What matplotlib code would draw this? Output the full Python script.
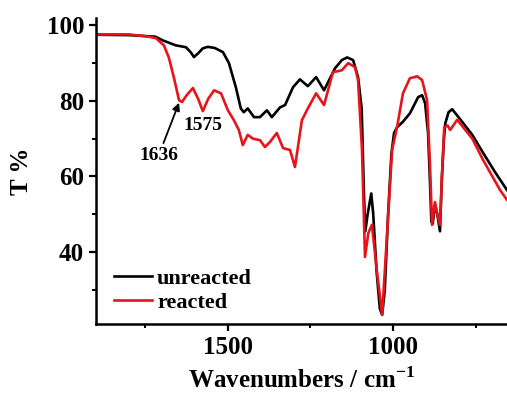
import matplotlib
matplotlib.use('Agg')
import matplotlib.pyplot as plt
from matplotlib.ticker import MultipleLocator

# unreacted sample (black)
wn_unreacted = [1900, 1800, 1720, 1697, 1658, 1627, 1612, 1603, 1590, 1576, 1561, 1540,
                1515, 1497, 1476, 1461, 1452, 1440, 1421, 1403, 1382, 1367, 1342, 1327,
                1303, 1282, 1258, 1233, 1209, 1176, 1155, 1139, 1121, 1106, 1095, 1088,
                1084, 1077, 1066, 1060, 1050, 1040, 1033, 1025, 1015, 1005, 997, 988,
                970, 949, 924, 912, 903, 894, 888, 884, 880, 873, 866, 858, 852, 846,
                842, 832, 821, 800, 760, 727, 690, 655]
t_unreacted = [97.5, 97.4, 97.0, 96.0, 94.7, 94.2, 92.8, 91.6, 92.6, 93.9, 94.3, 94.0,
               92.9, 90.0, 83.6, 78.0, 77.0, 78.0, 75.7, 75.7, 77.5, 75.7, 78.3, 78.9,
               83.6, 85.7, 83.9, 86.3, 82.8, 88.6, 90.8, 91.5, 90.8, 86.3, 78.0, 55.0,
               45.5, 50.0, 55.5, 50.0, 35.0, 25.0, 23.4, 30.0, 50.0, 66.0, 71.5, 73.0,
               74.5, 76.7, 81.0, 81.5, 79.4, 71.5, 58.0, 48.0, 47.5, 52.5, 50.0, 45.5,
               60.0, 70.0, 74.0, 77.0, 77.8, 75.5, 71.0, 66.2, 61.0, 56.4]

# reacted sample (red)
wn_reacted = [1900, 1800, 1740, 1718, 1694, 1679, 1664, 1648, 1639, 1625, 1606, 1590,
              1576, 1560, 1542, 1521, 1500, 1482, 1467, 1455, 1440, 1424, 1403, 1388,
              1373, 1352, 1333, 1312, 1297, 1276, 1258, 1233, 1209, 1182, 1155, 1136,
              1115, 1106, 1094, 1085, 1075, 1064, 1049, 1033, 1018, 1003, 988, 970,
              949, 927, 912, 897, 888, 882, 873, 866, 858, 852, 845, 835, 827, 806,
              760, 727, 676, 655]
t_reacted = [97.6, 97.6, 97.0, 96.6, 94.7, 91.5, 86.3, 80.2, 79.7, 81.5, 83.4, 80.5,
             77.3, 80.5, 82.8, 82.0, 77.5, 74.9, 72.3, 68.3, 71.0, 70.0, 69.6, 67.8,
             69.1, 71.5, 67.5, 67.0, 62.5, 74.9, 78.0, 82.0, 78.9, 87.6, 88.1, 90.0,
             88.9, 85.5, 67.0, 38.7, 45.0, 47.2, 35.0, 23.4, 45.0, 67.0, 73.0, 82.0,
             86.0, 86.5, 85.5, 80.2, 62.5, 47.2, 53.2, 50.0, 47.2, 60.0, 73.0, 73.5,
             72.3, 75.0, 70.0, 64.3, 56.4, 53.8]

plt.rcParams['font.family'] = ['Liberation Serif', 'DejaVu Serif']
plt.rcParams['font.weight'] = 'bold'
plt.rcParams['mathtext.fontset'] = 'custom'
plt.rcParams['mathtext.rm'] = 'Liberation Serif:bold'
plt.rcParams['mathtext.bf'] = 'Liberation Serif:bold'

fig = plt.figure(figsize=(5.07, 3.94), dpi=100)
ax = fig.add_axes([0.189, 0.178, 0.811, 0.776])

ax.plot(wn_unreacted, t_unreacted, color='black', lw=1.9, label='unreacted')
ax.plot(wn_reacted, t_reacted, color='#e8131b', lw=1.9, label='reacted')

ax.set_xlim(1900, 655)
ax.set_ylim(21, 101.9)
ax.xaxis.set_major_locator(MultipleLocator(500))
ax.xaxis.set_minor_locator(MultipleLocator(250))
ax.yaxis.set_major_locator(MultipleLocator(20))
ax.yaxis.set_minor_locator(MultipleLocator(10))

for s in ['top', 'right']:
    ax.spines[s].set_visible(False)
for s in ['left', 'bottom']:
    ax.spines[s].set_linewidth(1.8)
ax.tick_params(which='major', direction='out', length=5, width=1.6, labelsize=18)
ax.tick_params(which='minor', direction='out', length=3, width=1.4)
for lab in ax.get_xticklabels() + ax.get_yticklabels():
    lab.set_fontweight('bold')

ax.set_xlabel('Wavenumbers / cm$^{\\mathrm{-1}}$', fontsize=18, fontweight='bold', labelpad=6)
ax.set_ylabel('T %', fontsize=18, fontweight='bold', labelpad=10)

ax.annotate('1636', xy=(1648, 79.5), xytext=(1710, 65.5), fontsize=14, fontweight='bold',
            ha='center', va='center',
            arrowprops=dict(arrowstyle='-|>', color='black', lw=1.3, mutation_scale=11,
                            shrinkA=1, shrinkB=0))
ax.text(1576, 73.6, '1575', fontsize=14, fontweight='bold', ha='center', va='center')

leg = ax.legend(loc='lower left', bbox_to_anchor=(-0.005, -0.03), frameon=False,
                fontsize=16, handlelength=1.7, handletextpad=0.25, labelspacing=0.15)
for t in leg.get_texts():
    t.set_fontweight('bold')

fig.savefig('out.png', dpi=100)
